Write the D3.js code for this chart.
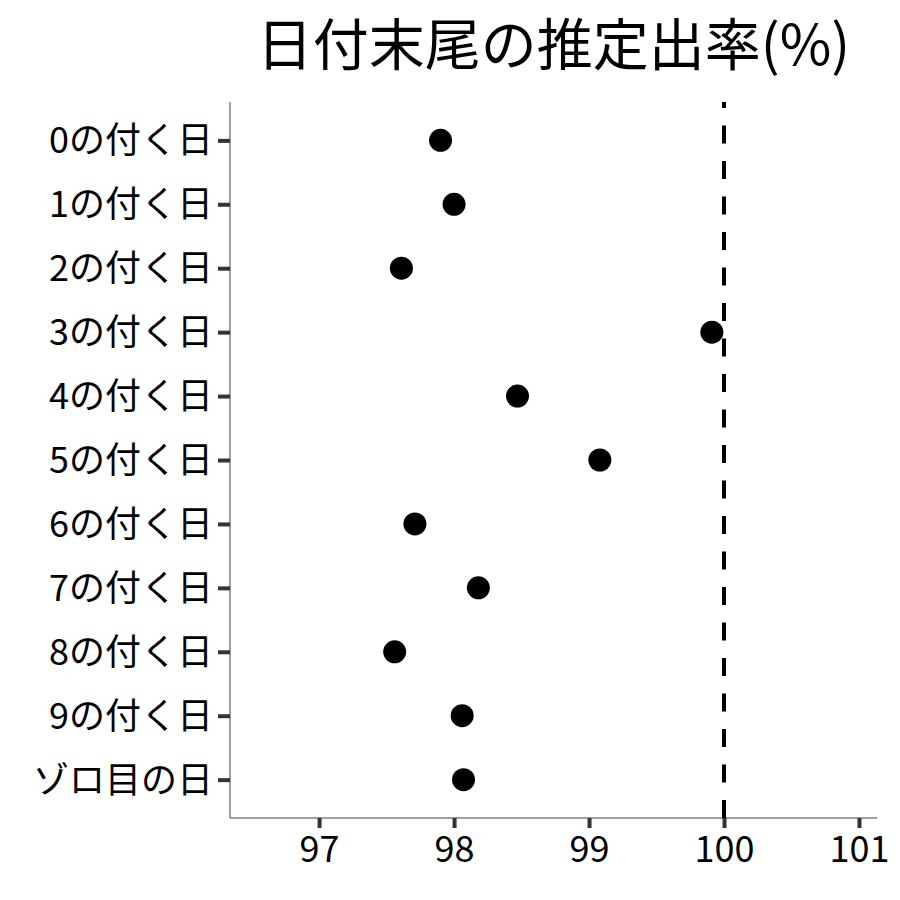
<!DOCTYPE html>
<html><head><meta charset="utf-8">
<script src="https://cdn.jsdelivr.net/npm/d3@7"></script>
<style>body{margin:0;background:#fff}svg{display:block}text{font-family:"Noto Sans CJK JP","Noto Sans",sans-serif}</style>
</head><body><svg id="c" width="900" height="900"></svg>
<script>
const categories = ["0の付く日","1の付く日","2の付く日","3の付く日","4の付く日","5の付く日","6の付く日","7の付く日","8の付く日","9の付く日","ゾロ目の日"];
const values = [97.90, 98.00, 97.61, 99.91, 98.47, 99.08, 97.71, 98.18, 97.56, 98.06, 98.07];
const xTicks = [97, 98, 99, 100, 101];
const refLine = 100;
const title = "日付末尾の推定出率(%)";

const svg = d3.select("#c");
const L = 230, R = 877, T = 102, B = 818;
const x = d3.scaleLinear().domain([96.34, 101.126]).range([L, 876]);
const y = d3.scalePoint().domain(categories).range([T, B]).padding(0.6);

// title
svg.append("text").attr("x", (L + R) / 2).attr("y", 65).attr("text-anchor", "middle")
  .attr("font-size", 56).attr("fill", "#000").text(title);

// x axis
const xa = svg.append("g").attr("transform", `translate(0,${B})`)
  .call(d3.axisBottom(x).tickValues(xTicks).tickSize(10).tickPadding(8).tickFormat(d3.format("d")));
xa.select(".domain").attr("stroke", "#7f7f7f").attr("stroke-width", 1.5).attr("d", `M${L},0H${R}`);
xa.selectAll(".tick line").attr("stroke", "#333").attr("stroke-width", 4);
xa.selectAll(".tick text").attr("font-size", 36).attr("fill", "#000").attr("font-family", '"Noto Sans CJK JP",sans-serif');

// y axis
const ya = svg.append("g").attr("transform", `translate(${L},0)`)
  .call(d3.axisLeft(y).tickSize(12).tickPadding(5));
ya.select(".domain").attr("stroke", "#7f7f7f").attr("stroke-width", 1.5).attr("d", `M0,${T}V${B}`);
ya.selectAll(".tick line").attr("stroke", "#333").attr("stroke-width", 4);
ya.selectAll(".tick text").attr("font-size", 36).attr("fill", "#000").attr("dy", "0.35em").attr("font-family", '"Noto Sans CJK JP",sans-serif');

// reference line
svg.append("line").attr("x1", x(refLine)).attr("x2", x(refLine)).attr("y1", B).attr("y2", T)
  .attr("stroke", "#000").attr("stroke-width", 4).attr("stroke-dasharray", "18,17.5");

// points
svg.append("g").selectAll("circle").data(categories).join("circle")
  .attr("cx", (d, i) => x(values[i])).attr("cy", d => y(d)).attr("r", 11.5).attr("fill", "#000");
</script></body></html>
